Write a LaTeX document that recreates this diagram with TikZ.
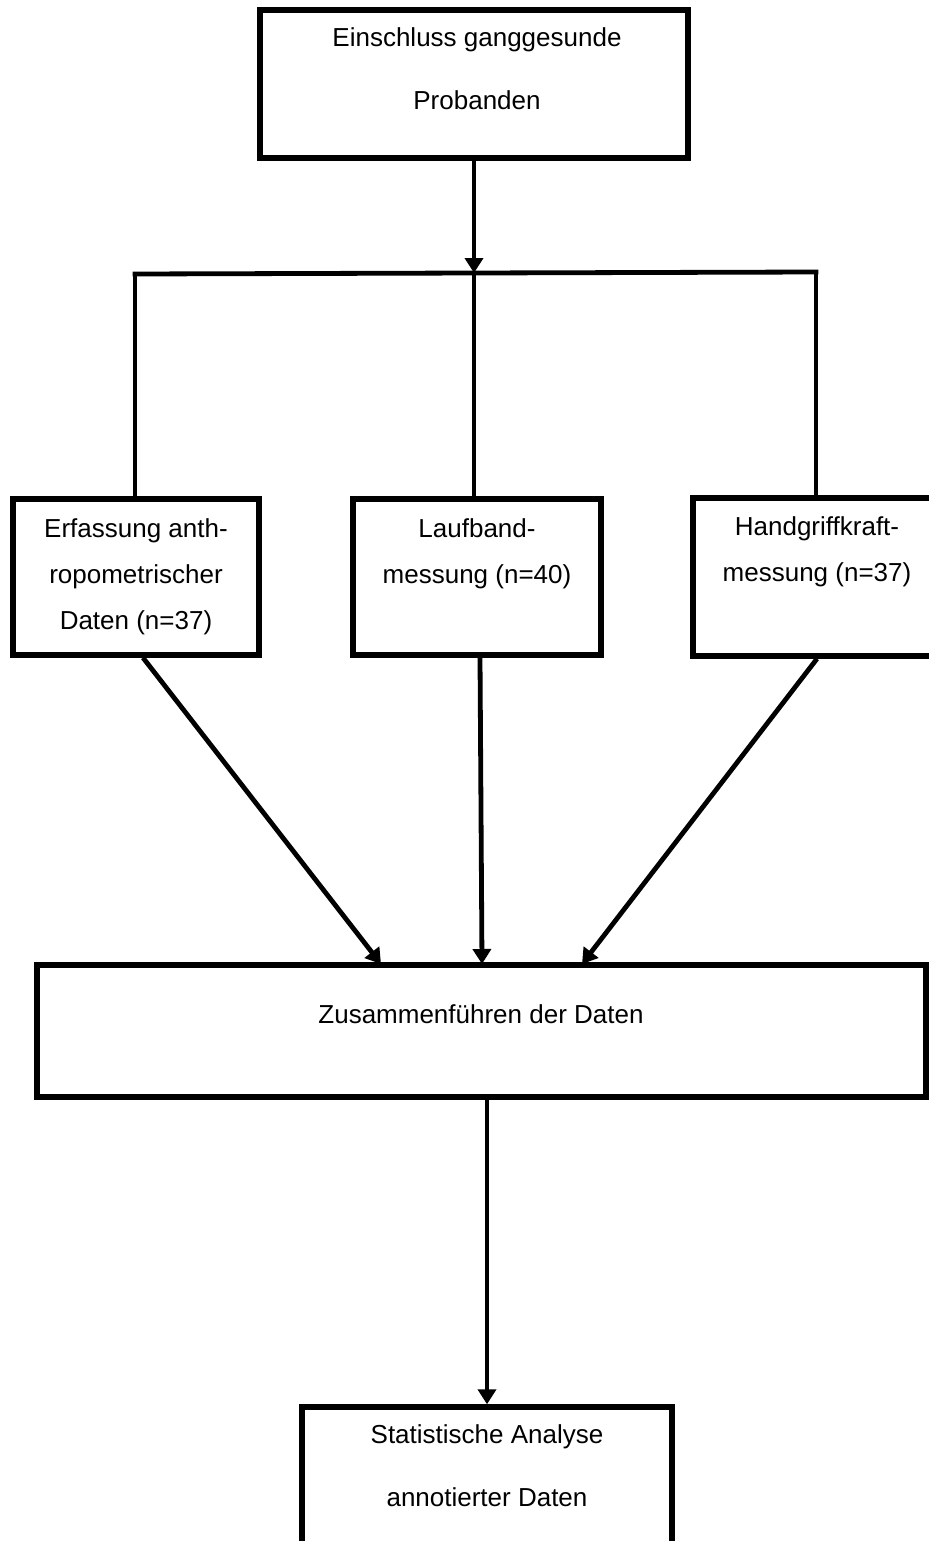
\documentclass[tikz,border=0pt]{standalone}
\usepackage{fontspec}
\setmainfont{Liberation Sans}
\usetikzlibrary{arrows.meta}
\begin{document}
\begin{tikzpicture}[x=0.5pt,y=-0.5pt,
  box/.style={draw=black, line width=2.7pt, rectangle, inner sep=0pt},
  conn/.style={draw=black, line width=2.4pt},
  arr/.style={conn, -{Triangle[length=7.5pt,width=9pt]}},
  txt/.style={font=\fontsize{13pt}{23pt}\selectfont, align=center, inner sep=0pt, anchor=base},
  txtw/.style={font=\fontsize{13pt}{31.5pt}\selectfont, align=center, inner sep=0pt, anchor=base}]
\useasboundingbox (0,0) rectangle (929,1541);
\fill[white] (0,0) rectangle (929,1541);
\clip (0,0) rectangle (929,1541);
% boxes
\node[box, minimum width=214pt, minimum height=74pt] (top) at (474,84) {};
\node[box, minimum width=123pt, minimum height=78pt] (left) at (136,577) {};
\node[box, minimum width=124pt, minimum height=78pt] (mid) at (477,577) {};
\node[box, minimum width=124pt, minimum height=79pt] (right) at (817,577) {};
\node[box, minimum width=444.5pt, minimum height=66pt] (merge) at (481.5,1031) {};
\node[box, minimum width=185pt, minimum height=96.5pt] (final) at (487,1503.5) {};
% texts (anchor = baseline of last line)
\node[txtw] (ttop) at (477,110) {Einschluss ganggesunde\\Probanden};
\node[txt] (tleft) at (136,629) {Erfassung anth-\\ropometrischer\\Daten (n=37)};
\node[txt] (tmid) at (477,583) {Laufband-\\messung (n=40)};
\node[txt] (tright) at (817,581) {Handgriffkraft-\\messung (n=37)};
\node[txt] (tmerge) at (481,1023) {Zusammenführen der Daten};
\node[txtw] (tfinal) at (487,1506) {Statistische Analyse\\annotierter Daten};
% junction
\coordinate (J) at (474,273);
\coordinate (JL) at (135,274);
\coordinate (JR) at (816,272);
\coordinate (mL) at (381,964);
\coordinate (mM) at (482,964);
\coordinate (mR) at (582,964);
\draw[arr] (top.south) -- (J);
\draw[conn, line cap=rect] (JL) -- (JR);
\draw[conn] (JL) -- (JL |- left.north);
\draw[conn] (J) -- (J |- mid.north);
\draw[conn] (JR) -- (JR |- right.north);
% to merge
\draw[arr] ([xshift=3.5pt]left.south) -- (mL);
\draw[arr] ([xshift=1.5pt]mid.south) -- (mM);
\draw[arr] (right.south) -- (mR);
\draw[arr] (merge.south -| final.north) -- (final.north);
\end{tikzpicture}
\end{document}
